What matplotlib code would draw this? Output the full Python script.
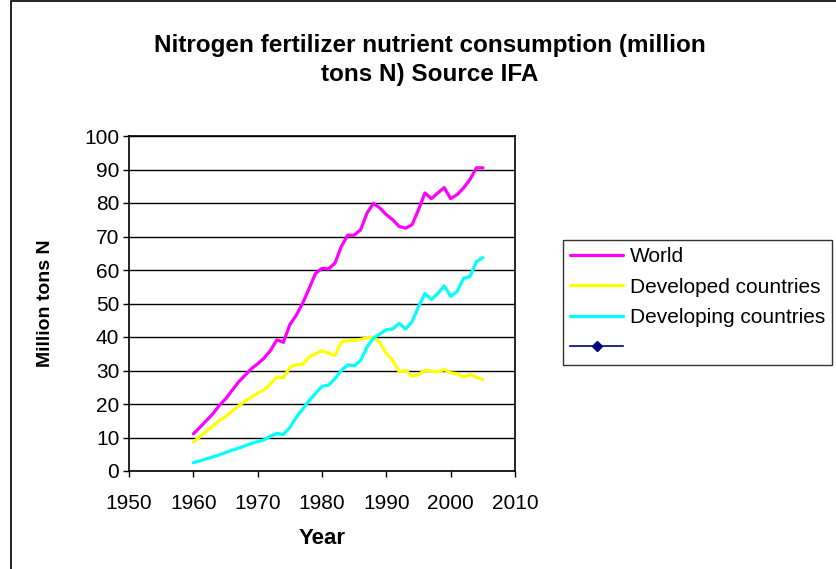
import matplotlib
matplotlib.use("Agg")
import matplotlib.pyplot as plt
from matplotlib.patches import Rectangle
import numpy as np

plt.rcParams['font.family'] = ['Liberation Sans', 'DejaVu Sans']

#%% data

years = np.arange(1960, 2006)

world = [11.1, 13.0, 15.0, 17.0, 19.5, 21.5, 24.0, 26.5, 28.5, 30.5,
         32.0, 33.7, 36.0, 39.2, 38.4, 43.7, 46.5, 50.1, 54.5, 59.0,
         60.5, 60.3, 62.0, 67.0, 70.4, 70.4, 72.0, 77.0, 79.9, 78.5,
         76.5, 75.0, 73.0, 72.5, 73.5, 78.0, 83.0, 81.3, 83.0, 84.6,
         81.3, 82.5, 84.5, 87.0, 90.5, 90.5]

developed = [8.6, 10.2, 11.8, 13.4, 15.0, 16.2, 17.8, 19.4, 20.8, 22.0,
             23.3, 24.2, 26.0, 28.1, 27.8, 31.0, 31.7, 31.8, 34.0, 35.0,
             35.9, 35.2, 34.5, 38.5, 38.9, 39.0, 39.3, 39.7, 40.0, 38.3,
             35.0, 33.0, 29.6, 30.0, 28.3, 28.8, 30.1, 29.8, 29.6, 30.3,
             29.3, 29.1, 28.0, 28.8, 28.0, 27.3]

developing = [2.5, 3.0, 3.6, 4.2, 4.8, 5.5, 6.2, 6.8, 7.5, 8.2,
              8.8, 9.3, 10.4, 11.2, 10.9, 13.0, 16.0, 18.5, 21.0, 23.2,
              25.3, 25.6, 27.5, 30.0, 31.7, 31.4, 33.0, 37.0, 39.7, 40.9,
              42.2, 42.4, 44.1, 42.4, 44.6, 49.0, 53.0, 51.2, 53.0, 55.3,
              52.1, 53.6, 57.5, 58.0, 62.5, 63.7]

labels = ["World", "Developed countries", "Developing countries"]
colors = ["#FF00FF", "#FFFF00", "#00FFFF"]

#%% plot

fig = plt.figure(figsize=(8.37, 5.69), dpi=100)
ax = fig.add_axes([129/837, 1 - 471/569, 386/837, 335/569])

for y, lab, c in zip([world, developed, developing], labels, colors):
    ax.plot(years, y, color=c, lw=2.3, label=lab, solid_capstyle='round')
# empty series, only shows up in the legend
ax.plot([], [], color='#000080', lw=1.2, marker='D', ms=5, label=' ')

ax.set_xlim(1950, 2010)
ax.set_ylim(0, 100)
ax.set_xticks(np.arange(1950, 2011, 10))
ax.set_yticks(np.arange(0, 101, 10))
ax.tick_params(direction='out', length=4.5, width=1, labelsize=15)
ax.tick_params(axis='x', pad=12)
ax.tick_params(axis='y', pad=2.5)
ax.yaxis.grid(True, color='black', lw=1)
ax.set_axisbelow(True)
for s in ax.spines.values():
    s.set_color('black')
    s.set_linewidth(1.2)

ax.set_xlabel('Year', fontsize=16, fontweight='bold')
ax.xaxis.set_label_coords(0.5, -(538 - 471)/335, transform=ax.transAxes)
ax.xaxis.label.set_va('center')
ax.set_ylabel('Million tons N', fontsize=14, fontweight='bold')
ax.yaxis.set_label_coords(-(129 - 45)/386, 0.5, transform=ax.transAxes)
ax.yaxis.label.set_va('center')

fig.text(430/837, 1 - 60/569,
         'Nitrogen fertilizer nutrient consumption (million\ntons N) Source IFA',
         ha='center', va='center', fontsize=17.5, fontweight='bold',
         linespacing=1.3)

leg = ax.legend(loc='upper left', bbox_to_anchor=(563/837, 1 - 240/569),
                bbox_transform=fig.transFigure, fontsize=15, frameon=True,
                fancybox=False, edgecolor='black', handlelength=2.55,
                handletextpad=0.3, borderaxespad=0, labelspacing=0.55,
                borderpad=0.35)
leg.get_frame().set_linewidth(1)

# outer chart border (cut off on the right and bottom)
fig.patches.append(Rectangle((11.5/837, -0.1), 1.0, 1.1 - 1.5/569,
                             transform=fig.transFigure, fill=False,
                             edgecolor='black', lw=1.2))

fig.savefig('out.png', dpi=100)
